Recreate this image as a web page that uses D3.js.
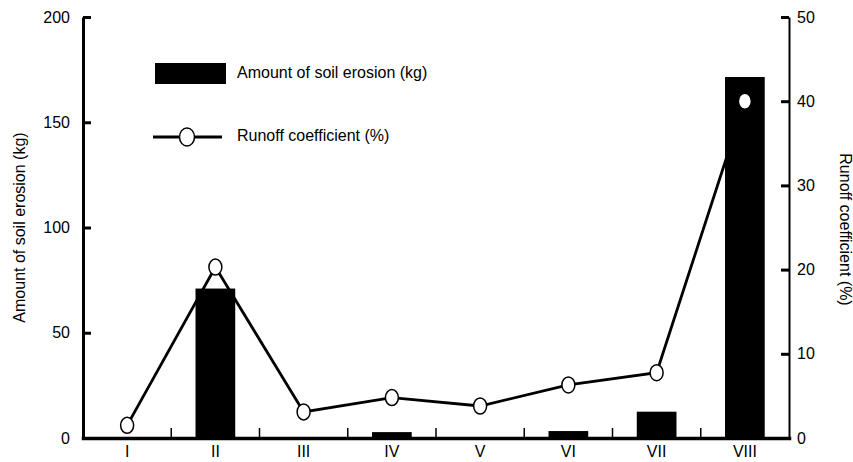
<!DOCTYPE html>
<html>
<head>
<meta charset="utf-8">
<script src="https://cdn.jsdelivr.net/npm/d3@7/dist/d3.min.js"></script>
<style>
  html, body { margin: 0; padding: 0; background: #fff; }
  svg { display: block; }
  text { font-family: "Liberation Sans", Arial, sans-serif; fill: #000; }
</style>
</head>
<body>
<svg id="chart" width="853" height="462"></svg>
<script>
const categories = ["I", "II", "III", "IV", "V", "VI", "VII", "VIII"];
const erosionKg = [0, 71, 0, 2.8, 0, 3.3, 12.5, 171.5];
const runoffPct = [1.5, 20.3, 3.1, 4.8, 3.8, 6.3, 7.75, 40];
const leftTicks = [0, 50, 100, 150, 200];
const rightTicks = [0, 10, 20, 30, 40, 50];
const leftTitle = "Amount of soil erosion (kg)";
const rightTitle = "Runoff coefficient (%)";

const svg = d3.select("#chart");
const FS = 16;
const plotL = 83, plotR = 789, plotT = 17, plotB = 438;

const x = d3.scaleBand().domain(categories).range([plotL, plotR]).padding(0);
const yL = d3.scaleLinear().domain([0, 200]).range([plotB, plotT]);
const yR = d3.scaleLinear().domain([0, 50]).range([plotB, plotT]);
const barW = x.bandwidth() * 0.45;

// runoff line (drawn under bars)
const line = d3.line()
  .x((d, i) => x(categories[i]) + x.bandwidth() / 2)
  .y(d => yR(d));
svg.append("path")
  .datum(runoffPct)
  .attr("d", line)
  .attr("fill", "none")
  .attr("stroke", "#000")
  .attr("stroke-width", 2.8);

// bars
svg.append("g").selectAll("rect")
  .data(erosionKg)
  .join("rect")
  .attr("x", (d, i) => x(categories[i]) + x.bandwidth() / 2 - barW / 2)
  .attr("y", d => yL(d))
  .attr("width", barW)
  .attr("height", d => plotB - yL(d))
  .attr("fill", "#000");

// markers
svg.append("g").selectAll("ellipse")
  .data(runoffPct)
  .join("ellipse")
  .attr("cx", (d, i) => x(categories[i]) + x.bandwidth() / 2)
  .attr("cy", d => yR(d))
  .attr("rx", 6.5)
  .attr("ry", 8)
  .attr("fill", "#fff")
  .attr("stroke", "#000")
  .attr("stroke-width", 1.5);

// left axis
const gL = svg.append("g").attr("transform", `translate(${plotL},0)`)
  .call(d3.axisLeft(yL).tickValues(leftTicks).tickSize(-8).tickSizeOuter(0).tickPadding(13));
gL.select(".domain").attr("stroke-width", 3);
gL.selectAll(".tick line").attr("stroke-width", 3);
gL.selectAll(".tick text").style("font-size", FS + "px").style("font-family", "Liberation Sans, Arial, sans-serif");

// right axis
const gR = svg.append("g").attr("transform", `translate(${plotR},0)`)
  .call(d3.axisRight(yR).tickValues(rightTicks).tickSize(-8).tickSizeOuter(0).tickPadding(8));
gR.select(".domain").attr("stroke-width", 2);
gR.selectAll(".tick line").attr("stroke-width", 3);
gR.selectAll(".tick text").style("font-size", FS + "px").style("font-family", "Liberation Sans, Arial, sans-serif");

// bottom axis
const gB = svg.append("g").attr("transform", `translate(0,${plotB})`)
  .call(d3.axisBottom(x).tickSize(0).tickSizeOuter(0).tickPadding(8));
gB.select(".domain").attr("stroke-width", 3.5).attr("stroke-linecap", "square");
gB.selectAll(".tick text").style("font-size", FS + "px").style("font-family", "Liberation Sans, Arial, sans-serif");
gB.selectAll("line.sep")
  .data(categories.slice(1))
  .join("line")
  .attr("class", "sep")
  .attr("x1", d => x(d)).attr("x2", d => x(d))
  .attr("y1", -10).attr("y2", 0)
  .attr("stroke", "#000").attr("stroke-width", 1.5);

// axis titles
svg.append("text")
  .attr("transform", `translate(21,${(plotT + plotB) / 2}) rotate(-90)`)
  .attr("text-anchor", "middle").attr("dominant-baseline", "middle")
  .style("font-size", FS + "px")
  .text(leftTitle);
svg.append("text")
  .attr("transform", `translate(844,${(plotT + plotB) / 2 + 2}) rotate(90)`)
  .attr("text-anchor", "middle").attr("dominant-baseline", "middle")
  .style("font-size", FS + "px")
  .text(rightTitle);

// legend
const lg = svg.append("g");
lg.append("rect").attr("x", 155).attr("y", 63).attr("width", 71).attr("height", 21).attr("fill", "#000");
lg.append("text").attr("x", 237).attr("y", 74).attr("dominant-baseline", "middle")
  .style("font-size", FS + "px").text(leftTitle);
lg.append("line").attr("x1", 153).attr("x2", 222).attr("y1", 137).attr("y2", 137)
  .attr("stroke", "#000").attr("stroke-width", 2.8);
lg.append("ellipse").attr("cx", 187).attr("cy", 137).attr("rx", 7.5).attr("ry", 9)
  .attr("fill", "#fff").attr("stroke", "#000").attr("stroke-width", 1.5);
lg.append("text").attr("x", 237).attr("y", 137).attr("dominant-baseline", "middle")
  .style("font-size", FS + "px").text(rightTitle);
</script>
</body>
</html>
